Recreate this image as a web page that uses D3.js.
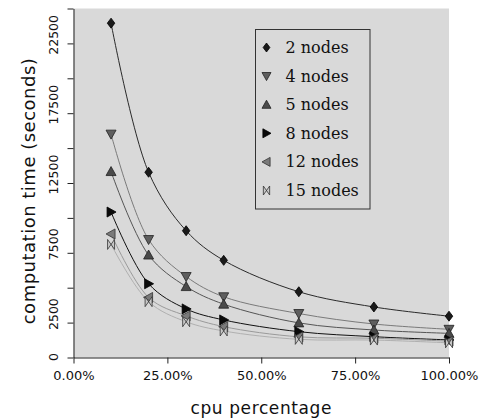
<!DOCTYPE html>
<html><head><meta charset="utf-8">
<script src="https://cdn.jsdelivr.net/npm/d3@7"></script>
<style>body{margin:0;background:#fff}svg{display:block}</style>
</head><body>
<svg id="c" width="482" height="420"></svg>
<script>
const cpu = [0.10, 0.20, 0.30, 0.40, 0.60, 0.80, 1.00];
const seriesNames = ["2 nodes", "4 nodes", "5 nodes", "8 nodes", "12 nodes", "15 nodes"];
const nodes2  = [23950, 13270, 9080, 6960, 4710, 3620, 2960];
const nodes4  = [16000, 8450, 5800, 4350, 3150, 2400, 2020];
const nodes5  = [13320, 7340, 5080, 3820, 2480, 1970, 1730];
const nodes8  = [10420, 5280, 3480, 2690, 1850, 1490, 1260];
const nodes12 = [8850, 4300, 2980, 2210, 1480, 1380, 1170];
const nodes15 = [8100, 4000, 2560, 1900, 1300, 1250, 1050];
const xTicks = [0, 0.25, 0.5, 0.75, 1.0];
const yTicks = [0, 2500, 5000, 7500, 10000, 12500, 15000, 17500, 20000, 22500, 25000];
const yLabels = [0, 2500, 7500, 12500, 17500, 22500];

const series = [
  {name: seriesNames[0], values: nodes2,  line: "#2a2a2a", fill: "#1a1a1a", stroke: "#000", shape: "diamond"},
  {name: seriesNames[1], values: nodes4,  line: "#7a7a7a", fill: "#5e5e5e", stroke: "#222", shape: "down"},
  {name: seriesNames[2], values: nodes5,  line: "#555",    fill: "#4a4a4a", stroke: "#222", shape: "up"},
  {name: seriesNames[3], values: nodes8,  line: "#111",    fill: "#0a0a0a", stroke: "#000", shape: "right"},
  {name: seriesNames[4], values: nodes12, line: "#9a9a9a", fill: "#7a7a7a", stroke: "#333", shape: "left"},
  {name: seriesNames[5], values: nodes15, line: "#b0b0b0", fill: "#c8c8c8", stroke: "#333", shape: "bowtie"}
];

const L = 73.5, R = 449, T = 8.5, B = 357.5;
const svg = d3.select("#c");
const x = d3.scaleLinear().domain([0, 1]).range([L, R]);
const y = d3.scaleLinear().domain([0, 25000]).range([B, T]);

svg.append("rect").attr("x", L).attr("y", T).attr("width", R - L).attr("height", B - T).attr("fill", "#d9d9d9");

function shapePath(s, r) {
  switch (s) {
    case "diamond": return `M0,${-r}L${r*0.75},0L0,${r}L${-r*0.75},0Z`;
    case "down": return `M${-r},${-r*0.8}L${r},${-r*0.8}L0,${r}Z`;
    case "up": return `M${-r},${r*0.8}L${r},${r*0.8}L0,${-r}Z`;
    case "right": return `M${-r*0.8},${-r}L${r},0L${-r*0.8},${r}Z`;
    case "left": return `M${r*0.8},${-r}L${-r},0L${r*0.8},${r}Z`;
    case "bowtie": return `M${-r*0.7},${-r}L${r*0.7},${r}L${r*0.7},${-r}L${-r*0.7},${r}Z`;
  }
}

const line = d3.line().x((d, i) => x(cpu[i])).y(d => y(d)).curve(d3.curveCatmullRom.alpha(0.5));
series.forEach(s => {
  svg.append("path").attr("d", line(s.values)).attr("fill", "none").attr("stroke", s.line).attr("stroke-width", 1);
});
series.forEach(s => {
  svg.selectAll(null).data(s.values).enter().append("path")
    .attr("transform", (d, i) => `translate(${x(cpu[i])},${y(d)})`)
    .attr("d", shapePath(s.shape, 5))
    .attr("fill", s.fill).attr("stroke", s.stroke).attr("stroke-width", 0.8);
});

// axes
const gx = svg.append("g").attr("transform", `translate(0,${B})`)
  .call(d3.axisBottom(x).tickValues(xTicks).tickSize(6).tickSizeOuter(0).tickFormat(d3.format(".2%")));
gx.select(".domain").attr("stroke", "#222");
gx.selectAll(".tick line").attr("stroke", "#222");
gx.selectAll("text").attr("font-family", "DejaVu Sans").attr("font-size", 13).attr("fill", "#111").attr("dy", "1.05em");

const gy = svg.append("g").attr("transform", `translate(${L},0)`)
  .call(d3.axisLeft(y).tickValues(yTicks).tickSize(6).tickSizeOuter(0).tickFormat(d => yLabels.includes(d) ? d : ""));
gy.select(".domain").attr("stroke", "#222");
gy.selectAll(".tick line").attr("stroke", "#222");
gy.selectAll("text").attr("font-family", "DejaVu Sans").attr("font-size", 12.5).attr("fill", "#111")
  .attr("x", null).attr("dy", null)
  .attr("text-anchor", "middle")
  .attr("transform", d => `translate(-16,${d === 0 ? -1 : -9}) rotate(-90)`);

svg.append("text").attr("transform", `translate(${(L + R) / 2},414)`).attr("text-anchor", "middle")
  .attr("font-family", "DejaVu Sans").attr("font-size", 17).attr("letter-spacing", 0.6)
  .attr("fill", "#111").text("cpu percentage");
svg.append("text").attr("transform", `translate(35,${(T + B) / 2 + 8}) rotate(-90)`).attr("text-anchor", "middle")
  .attr("font-family", "DejaVu Sans").attr("font-size", 18).attr("letter-spacing", 0.5)
  .attr("fill", "#111").text("computation time (seconds)");

// legend
const lg = svg.append("g");
lg.append("rect").attr("x", 255.5).attr("y", 29.5).attr("width", 114.5).attr("height", 179.5)
  .attr("fill", "#d9d9d9").attr("stroke", "#333").attr("stroke-width", 1);
series.forEach((s, i) => {
  const cy = 47.5 + i * 28.6;
  lg.append("path").attr("transform", `translate(266.5,${cy})`).attr("d", shapePath(s.shape, 4.5))
    .attr("fill", s.fill).attr("stroke", s.stroke).attr("stroke-width", 0.8);
  lg.append("text").attr("x", 285.5).attr("y", cy + 5.5).attr("font-family", "DejaVu Serif").attr("font-size", 16)
    .attr("fill", "#111").text(s.name);
});
</script>
</body></html>
